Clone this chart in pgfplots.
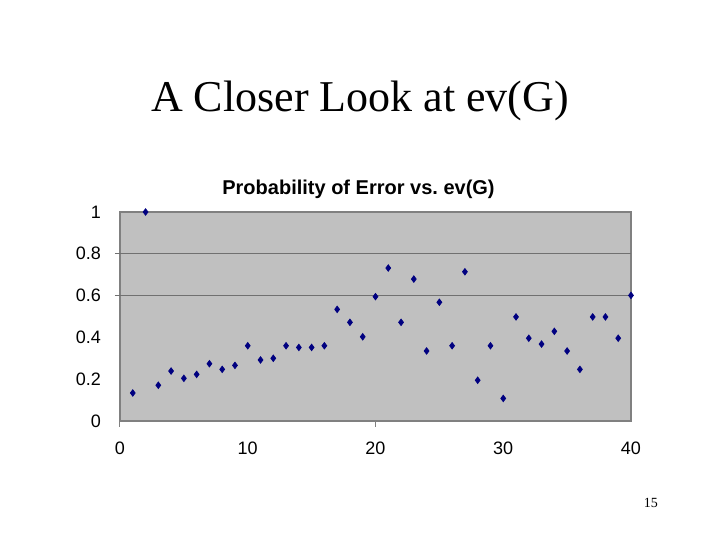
\documentclass[border=0pt]{standalone}
\usepackage{pgfplots}
\pgfplotsset{compat=1.18}
\usepackage{fontspec}
\setmainfont{Liberation Sans}
\newfontfamily\slideserif{Liberation Serif}

\definecolor{plotgray}{HTML}{C0C0C0}
\definecolor{framegray}{HTML}{808080}
\definecolor{gridgray}{HTML}{707070}
\definecolor{pointblue}{HTML}{000080}

\begin{document}
\begin{tikzpicture}
  % slide: 720x540 px at 0.5pt per px
  \fill[white] (0,0) rectangle (360pt,270pt);
  \useasboundingbox (0,0) rectangle (360pt,270pt);

  \node[font=\slideserif\fontsize{22}{26}\selectfont, anchor=base]
    at (180pt,214pt) {A Closer Look at ev(G)};
  \node[font=\slideserif\fontsize{7}{8}\selectfont, anchor=base]
    at (325.5pt,16pt) {15};

  \begin{axis}[
      at={(60pt,59.5pt)}, anchor=south west,
      scale only axis,
      width=255.5pt, height=104.5pt,
      xmin=0, xmax=40, ymin=0, ymax=1,
      xtick={0,10,20,30,40},
      ytick={0,0.2,0.4,0.6,0.8,1},
      tick pos=left,
      major tick length=0pt,
      tick align=outside,
      extra x ticks={0,20},
      extra x tick labels={},
      extra x tick style={major tick length=3pt, tick style={framegray, line width=0.5pt}},
      extra y ticks={0.6,0.8},
      extra y tick labels={},
      extra y tick style={grid=major, major tick length=2.5pt,
        tick style={gridgray, line width=0.5pt}},
      grid style={gridgray, line width=0.5pt},
      axis line style={framegray, line width=0.75pt},
      axis background/.style={fill=plotgray},
      ticklabel style={font=\fontsize{9}{10}\selectfont},
      /pgf/number format/assume math mode=true,
      yticklabel style={xshift=-6pt},
      xticklabel style={yshift=-7pt},
      title={\bfseries Probability of Error vs.\ ev(G)},
      title style={font=\fontsize{10}{12}\selectfont, yshift=-3pt, xshift=-8.5pt},
      clip=false,
    ]
    \addplot[only marks, mark=diamond*, mark size=1.6pt,
      mark options={fill=pointblue, draw=pointblue}] coordinates {
      (1,0.134) (2,1.0) (3,0.171) (4,0.239) (5,0.204) (6,0.223)
      (7,0.274) (8,0.247) (9,0.266) (10,0.360) (11,0.292) (12,0.300)
      (13,0.360) (14,0.352) (15,0.352) (16,0.360) (17,0.534) (18,0.472)
      (19,0.403) (20,0.595) (21,0.732) (22,0.472) (23,0.679) (24,0.335)
      (25,0.568) (26,0.360) (27,0.714) (28,0.195) (29,0.360) (30,0.108)
      (31,0.498) (32,0.396) (33,0.368) (34,0.429) (35,0.335) (36,0.247)
      (37,0.498) (38,0.498) (39,0.396) (40,0.601)
    };
  \end{axis}
\end{tikzpicture}
\end{document}
